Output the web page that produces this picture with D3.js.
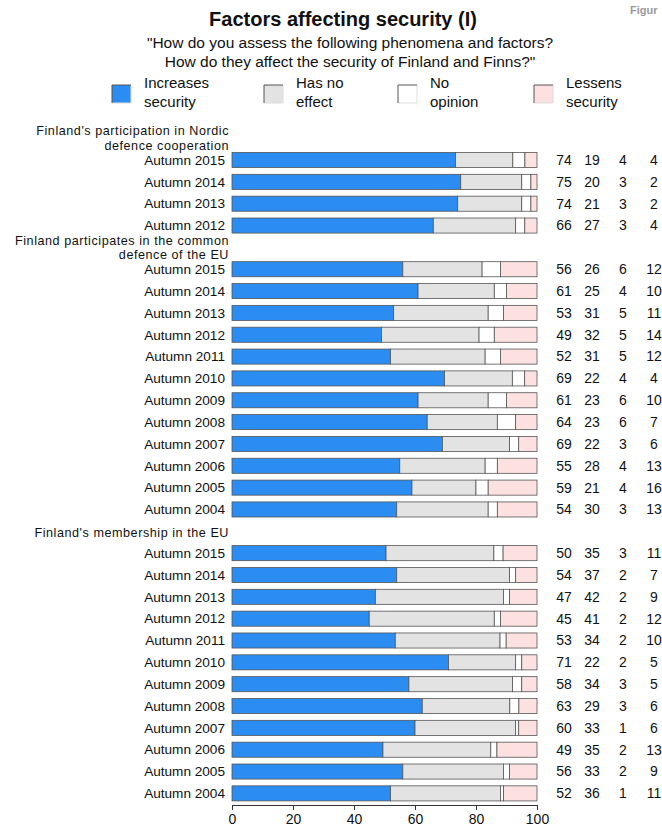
<!DOCTYPE html>
<html>
<head>
<meta charset="utf-8">
<script src="https://cdn.jsdelivr.net/npm/d3@7"></script>
<style>
  html, body { margin: 0; padding: 0; background: #fff; }
  svg { display: block; font-family: "Liberation Sans", Arial, Helvetica, sans-serif; }
</style>
</head>
<body>
<svg id="chart" width="662" height="831"></svg>
<script>
// ---- data ----
const title = "Factors affecting security (I)";
const subtitle = ["\"How do you assess the following phenomena and factors?", "How do they affect the security of Finland and Finns?\""];
const seriesNames = [["Increases", "security"], ["Has no", "effect"], ["No", "opinion"], ["Lessens", "security"]];
const seriesColors = ["#2b8df2", "#e3e3e3", "#ffffff", "#fde1e1"];

const group1Label = ["Finland's participation in Nordic", "defence cooperation"];
const group1Years = ["Autumn 2015", "Autumn 2014", "Autumn 2013", "Autumn 2012"];
const group1Increases = [74, 75, 74, 66];
const group1NoEffect  = [19, 20, 21, 27];
const group1NoOpinion = [4, 3, 3, 3];
const group1Lessens   = [4, 2, 2, 4];

const group2Label = ["Finland participates in the common", "defence of the EU"];
const group2Years = ["Autumn 2015", "Autumn 2014", "Autumn 2013", "Autumn 2012", "Autumn 2011", "Autumn 2010",
                     "Autumn 2009", "Autumn 2008", "Autumn 2007", "Autumn 2006", "Autumn 2005", "Autumn 2004"];
const group2Increases = [56, 61, 53, 49, 52, 69, 61, 64, 69, 55, 59, 54];
const group2NoEffect  = [26, 25, 31, 32, 31, 22, 23, 23, 22, 28, 21, 30];
const group2NoOpinion = [6, 4, 5, 5, 5, 4, 6, 6, 3, 4, 4, 3];
const group2Lessens   = [12, 10, 11, 14, 12, 4, 10, 7, 6, 13, 16, 13];

const group3Label = ["Finland's membership in the EU"];
const group3Years = group2Years;
const group3Increases = [50, 54, 47, 45, 53, 71, 58, 63, 60, 49, 56, 52];
const group3NoEffect  = [35, 37, 42, 41, 34, 22, 34, 29, 33, 35, 33, 36];
const group3NoOpinion = [3, 2, 2, 2, 2, 2, 3, 3, 1, 2, 2, 1];
const group3Lessens   = [11, 7, 9, 12, 10, 5, 5, 6, 6, 13, 9, 11];

const xTicks = [0, 20, 40, 60, 80, 100];

// ---- build rows ----
const groups = [
  {label: group1Label, years: group1Years, vals: [group1Increases, group1NoEffect, group1NoOpinion, group1Lessens]},
  {label: group2Label, years: group2Years, vals: [group2Increases, group2NoEffect, group2NoOpinion, group2Lessens]},
  {label: group3Label, years: group3Years, vals: [group3Increases, group3NoEffect, group3NoOpinion, group3Lessens]}
];
const slots = [];   // row keys incl. gap slots
const rows = [];
groups.forEach((g, gi) => {
  if (gi > 0) slots.push("gap" + gi);
  g.firstKey = "g" + gi + "r0";
  g.years.forEach((yr, i) => {
    const key = "g" + gi + "r" + i;
    slots.push(key);
    rows.push({key, year: yr, values: g.vals.map(v => v[i])});
  });
});

const svg = d3.select("#chart");
const FONT_TXT = "#111";

const x = d3.scaleLinear().domain([0, 100]).range([232, 537]);
const y = d3.scaleBand().domain(slots).range([149.1, 804.3]).paddingInner(0.31).paddingOuter(0.155);
const step = y.step();
const yc = k => y(k) + y.bandwidth() / 2;

// ---- title ----
svg.append("text").attr("x", 343).attr("y", 26).attr("text-anchor", "middle")
  .attr("font-size", 20).attr("font-weight", "bold").attr("fill", FONT_TXT).text(title);
svg.append("text").attr("x", 630).attr("y", 14).attr("font-size", 11).attr("font-weight", "bold")
  .attr("fill", "#9a9a9a").text("Figur");
subtitle.forEach((s, i) => {
  svg.append("text").attr("x", 350).attr("y", 48 + i * 19).attr("text-anchor", "middle")
    .attr("font-size", 15.5).attr("fill", FONT_TXT).text(s);
});

// ---- legend ----
const legX = [112, 264, 398, 534];
const leg = svg.append("g");
seriesNames.forEach((nm, i) => {
  const lx = legX[i], ly = 85, w = 19, h = 18;
  leg.append("rect").attr("x", lx).attr("y", ly).attr("width", w).attr("height", h).attr("fill", seriesColors[i]);
  leg.append("path").attr("d", `M${lx + w},${ly} L${lx + w},${ly + h} L${lx},${ly + h}`)
    .attr("fill", "none").attr("stroke", "#ddd").attr("stroke-width", 1);
  leg.append("path").attr("d", `M${lx},${ly + h} L${lx},${ly} L${lx + w},${ly}`)
    .attr("fill", "none").attr("stroke", "#555").attr("stroke-width", 1);
  nm.forEach((t, j) => {
    leg.append("text").attr("x", lx + 32).attr("y", 88 + j * 19).attr("font-size", 15)
      .attr("fill", FONT_TXT).text(t);
  });
});

// ---- group labels ----
groups.forEach(g => {
  const c = yc(g.firstKey) - step;
  const offs = g.label.length === 2 ? [-7.2, 7.0] : [1];
  g.label.forEach((t, j) => {
    svg.append("text").attr("x", 229).attr("y", c + offs[j]).attr("dy", "0.35em")
      .attr("text-anchor", "end").attr("font-size", 12.6).attr("letter-spacing", 0.55)
      .attr("fill", FONT_TXT).text(t);
  });
});

// ---- rows ----
const rowG = svg.append("g").selectAll("g").data(rows).join("g");
rowG.append("text").attr("x", 225).attr("y", d => yc(d.key)).attr("dy", "0.35em")
  .attr("text-anchor", "end").attr("font-size", 13.6).attr("fill", FONT_TXT).text(d => d.year);

rowG.selectAll("rect").data(d => {
  const total = d3.sum(d.values);
  let acc = 0;
  return d.values.map((v, i) => {
    const s = {key: d.key, x0: acc / total * 100, x1: (acc + v) / total * 100, i};
    acc += v;
    return s;
  });
}).join("rect")
  .attr("x", s => x(s.x0))
  .attr("width", s => Math.max(0, x(s.x1) - x(s.x0)))
  .attr("y", s => y(s.key))
  .attr("height", y.bandwidth())
  .attr("fill", s => seriesColors[s.i])
  .attr("stroke", "#555").attr("stroke-width", 0.8);

const colX = [564, 592, 623, 654];
rowG.selectAll("text.num").data(d => d.values.map((v, i) => ({v, i, key: d.key}))).join("text")
  .attr("class", "num")
  .attr("x", s => colX[s.i]).attr("y", s => yc(s.key)).attr("dy", "0.35em")
  .attr("text-anchor", "middle").attr("font-size", 14).attr("fill", FONT_TXT).text(s => s.v);

// ---- axis ----
const axis = svg.append("g").attr("transform", "translate(0,805)")
  .call(d3.axisBottom(x).tickValues(xTicks).tickSize(5).tickSizeOuter(0).tickPadding(4));
axis.selectAll("text").attr("font-size", 14).attr("font-family", "Liberation Sans, Arial, sans-serif").attr("fill", FONT_TXT);
axis.selectAll("path, line").attr("stroke", "#333");
</script>
</body>
</html>
